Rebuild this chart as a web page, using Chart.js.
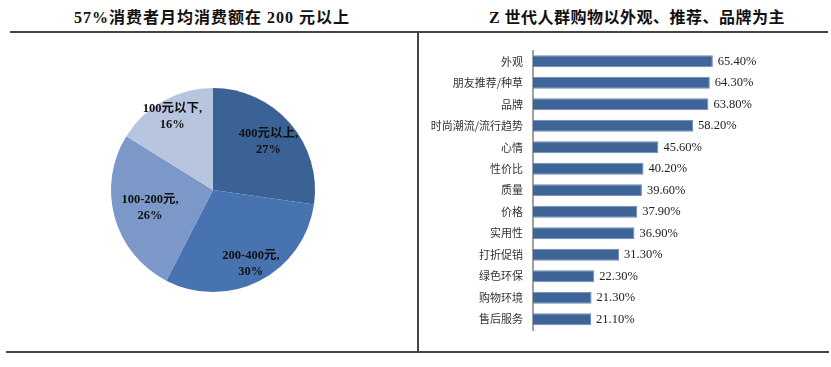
<!DOCTYPE html>
<html>
<head>
<meta charset="utf-8">
<script src="https://cdn.jsdelivr.net/npm/chart.js@4"></script>
<style>
  body { margin: 0; background: #fff; width: 831px; height: 367px; position: relative; overflow: hidden; }
  .title { position: absolute; top: 4px; font: bold 16px "Liberation Serif", "Noto Sans CJK SC", serif; color: #111; letter-spacing: 1px; white-space: nowrap; transform: translateX(-50%); }
  .hline { position: absolute; height: 2px; background: #444; }
  .vline { position: absolute; width: 2px; background: #444; }
  #pie { position: absolute; left: 10px; top: 34px; }
  #bar { position: absolute; left: 420px; top: 34px; }
</style>
</head>
<body>
<div class="title" style="left:212px">57%消费者月均消费额在 200 元以上</div>
<div class="title" style="left:637px; letter-spacing:0.5px">Z 世代人群购物以外观、推荐、品牌为主</div>
<div class="hline" style="left:10px; top:31px; width:818px"></div>
<div class="hline" style="left:6px; top:351px; width:823px"></div>
<div class="vline" style="left:417px; top:31px; height:322px"></div>
<canvas id="pie" width="406" height="316"></canvas>
<canvas id="bar" width="411" height="318"></canvas>
<script>
// spending share
const spendLabels = ["400元以上", "200-400元", "100-200元", "100元以下"];
const spendShare = [27, 30, 26, 16];
const spendColors = ['#3b6295', '#4774b0', '#7b98c9', '#b8c5df'];

// purchase drivers
const reasons = ["外观", "朋友推荐/种草", "品牌", "时尚潮流/流行趋势", "心情", "性价比", "质量", "价格", "实用性", "打折促销", "绿色环保", "购物环境", "售后服务"];
const reasonPct = [65.4, 64.3, 63.8, 58.2, 45.6, 40.2, 39.6, 37.9, 36.9, 31.3, 22.3, 21.3, 21.1];

// labels inside the pie slices
const pieLabels = {
  id: 'pieLabels',
  afterDatasetsDraw(chart) {
    const ctx = chart.ctx;
    const meta = chart.getDatasetMeta(0);
    const factors = [0.72, 0.81, 0.64, 0.82];
    ctx.save();
    ctx.font = 'bold 12.5px "Liberation Serif", "Noto Sans CJK SC", serif';
    ctx.fillStyle = '#111';
    ctx.textAlign = 'center';
    ctx.textBaseline = 'middle';
    meta.data.forEach((arc, i) => {
      const mid = (arc.startAngle + arc.endAngle) / 2;
      const r = arc.outerRadius * factors[i];
      const x = arc.x + Math.cos(mid) * r;
      const y = arc.y + Math.sin(mid) * r;
      ctx.fillText(spendLabels[i] + ',', x, y - 8);
      ctx.fillText(spendShare[i] + '%', x, y + 8);
    });
    ctx.restore();
  }
};

new Chart(document.getElementById('pie'), {
  type: 'pie',
  data: {
    labels: spendLabels,
    datasets: [{
      data: spendShare,
      backgroundColor: spendColors,
      borderColor: '#ffffff',
      borderWidth: 0
    }]
  },
  options: {
    responsive: false,
    animation: false,
    layout: { padding: { top: 54, bottom: 58 } },
    plugins: { legend: { display: false }, tooltip: { enabled: false } }
  },
  plugins: [pieLabels]
});

// value labels right of each bar
const barValues = {
  id: 'barValues',
  afterDatasetsDraw(chart) {
    const ctx = chart.ctx;
    const meta = chart.getDatasetMeta(0);
    ctx.save();
    ctx.font = '12.5px "Liberation Serif", serif';
    ctx.fillStyle = '#222';
    ctx.textAlign = 'left';
    ctx.textBaseline = 'middle';
    meta.data.forEach((bar, i) => {
      ctx.fillText(reasonPct[i].toFixed(2) + '%', bar.x + 5, bar.y);
    });
    ctx.restore();
  }
};

new Chart(document.getElementById('bar'), {
  type: 'bar',
  data: {
    labels: reasons,
    datasets: [{
      data: reasonPct,
      backgroundColor: '#3e6498',
      borderColor: '#6f8dbb',
      borderWidth: 1,
      barPercentage: 0.56,
      categoryPercentage: 1
    }]
  },
  options: {
    indexAxis: 'y',
    responsive: false,
    animation: false,
    layout: { padding: { top: 16, bottom: 22, right: 78, left: 0 } },
    scales: {
      x: { display: false, min: 0, max: 80 },
      y: {
        afterFit: (s) => { s.width = 113; },
        grid: { display: false, drawTicks: false },
        border: { color: '#a0a0a0', width: 2 },
        ticks: {
          padding: 10,
          color: '#333',
          font: { family: '"Noto Sans CJK SC", sans-serif', size: 11 }
        }
      }
    },
    plugins: { legend: { display: false }, tooltip: { enabled: false } }
  },
  plugins: [barValues]
});
</script>
</body>
</html>
